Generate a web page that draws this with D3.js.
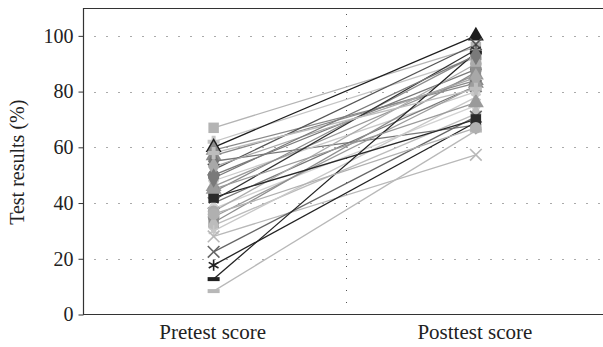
<!DOCTYPE html>
<html>
<head>
<meta charset="utf-8">
<script src="https://cdn.jsdelivr.net/npm/d3@7"></script>
<style>
  html, body { margin: 0; padding: 0; background: #fff; }
  svg { display: block; }
</style>
</head>
<body>
<div id="chart"></div>
<script>
// categories on the x axis
const categories = ["Pretest score", "Posttest score"];
// one entry per student, pretest and posttest in the same order
const pretest  = [67, 62, 60, 59, 57, 55, 52, 50, 48, 46, 44, 41, 40, 38, 37, 35, 33, 32, 30, 28, 22.5, 17.7, 12.7, 8.4, 42, 53, 45, 36, 58, 49];
const posttest = [96, 92, 100, 83, 84, 68, 97, 88, 80, 86, 93, 95, 82, 75, 90, 82, 87, 72, 78, 57.3, 71, 69, 94, 66, 70, 85, 76, 67, 81, 93];
const yTicks = [0, 20, 40, 60, 80, 100];

// marker shape / gray shade per student
const shapes = ["square", "plus", "triangle", "triangle", "triangle", "diamond", "x", "circle", "diamond", "triangle",
  "square", "star", "x", "diamond", "circle", "circle", "square", "diamond", "star", "x",
  "x", "star", "dash", "dash", "square", "diamond", "triangle", "circle", "plus", "diamond"];
const shades = ["#b4b4b4", "#c4c4c4", "#1e1e1e", "#8a8a8a", "#8a8a8a", "#777777", "#555555", "#7a7a7a", "#cacaca", "#9a9a9a",
  "#8c8c8c", "#333333", "#777777", "#d2d2d2", "#ababab", "#9c9c9c", "#8e8e8e", "#bcbcbc", "#c8c8c8", "#b8b8b8",
  "#666666", "#222222", "#222222", "#b8b8b8", "#2a2a2a", "#a8a8a8", "#9a9a9a", "#b0b0b0", "#bdbdbd", "#7a7a7a"];

const width = 603, height = 347;
const margin = { top: 8, right: -5, bottom: 32.5, left: 83.5 };
const font = "'Liberation Serif', 'DejaVu Serif', serif";

const svg = d3.select("#chart").append("svg")
  .attr("width", width)
  .attr("height", height);

const x = d3.scaleBand()
  .domain(categories)
  .range([margin.left, width - margin.right]);

const y = d3.scaleLinear()
  .domain([0, 110])
  .range([height - margin.bottom, margin.top]);

// dotted grid
svg.append("g")
  .selectAll("line")
  .data(yTicks.filter(d => d > 0))
  .join("line")
  .attr("x1", margin.left + 11)
  .attr("x2", width)
  .attr("y1", d => Math.round(y(d)) + 0.5)
  .attr("y2", d => Math.round(y(d)) + 0.5)
  .attr("stroke", "#555")
  .attr("stroke-width", 1)
  .attr("stroke-dasharray", "1,11");

// category separator
svg.append("line")
  .attr("x1", Math.round(x(categories[1])) + 0.5)
  .attr("x2", Math.round(x(categories[1])) + 0.5)
  .attr("y1", margin.top + 6)
  .attr("y2", y(0))
  .attr("stroke", "#555")
  .attr("stroke-dasharray", "1,11");

// frame: top, left, bottom
svg.append("path")
  .attr("d", `M${width},${margin.top + 0.5}H${margin.left}V${y(0)}H${width}`)
  .attr("fill", "none")
  .attr("stroke", "#333")
  .attr("stroke-width", 1.2);

// left axis
const yAxis = g => g
  .attr("transform", `translate(${margin.left},0)`)
  .style("font-family", font)
  .style("font-size", "20px")
  .call(d3.axisLeft(y).tickValues(yTicks).tickSize(5).tickPadding(5))
  .call(g => g.select(".domain").remove())
  .call(g => g.selectAll(".tick line").attr("stroke", "#333"))
  .call(g => g.selectAll(".tick text").attr("fill", "#222"));
svg.append("g").call(yAxis);

// bottom labels
svg.append("g")
  .selectAll("text")
  .data(categories)
  .join("text")
  .attr("x", d => x(d) + x.bandwidth() / 2 - 2)
  .attr("y", 339)
  .attr("text-anchor", "middle")
  .style("font-family", font)
  .style("font-size", "21px")
  .attr("fill", "#222")
  .text(d => d);

svg.append("text")
  .attr("transform", `translate(24,${(margin.top + y(0)) / 2 + 1}) rotate(-90)`)
  .attr("text-anchor", "middle")
  .style("font-family", font)
  .style("font-size", "20px")
  .attr("fill", "#222")
  .text("Test results (%)");

const px0 = x(categories[0]) + x.bandwidth() / 2 - 1;
const px1 = x(categories[1]) + x.bandwidth() / 2 - 1;

const students = pretest.map((p, i) => ({ pre: p, post: posttest[i], shape: shapes[i], color: shades[i] }));

// lines
svg.append("g")
  .attr("fill", "none")
  .attr("stroke-width", 1.3)
  .selectAll("line")
  .data(students)
  .join("line")
  .attr("x1", px0)
  .attr("y1", d => y(d.pre))
  .attr("x2", px1)
  .attr("y2", d => y(d.post))
  .attr("stroke", d => d.color);

const symbolTypes = {
  square: d3.symbolSquare,
  diamond: d3.symbolDiamond,
  triangle: d3.symbolTriangle,
  circle: d3.symbolCircle,
  plus: d3.symbolCross,
  x: d3.symbolX,
  star: d3.symbolAsterisk
};
const strokeOnly = new Set(["x", "star"]);

function drawMarker(g, d, cx, cy) {
  if (d.shape === "dash") {
    g.append("rect")
      .attr("x", cx - 6).attr("y", cy - 2)
      .attr("width", 12).attr("height", 4)
      .attr("fill", d.color);
    return;
  }
  const size = d.shape === "plus" ? 80 : (strokeOnly.has(d.shape) ? 90 : 110);
  const p = g.append("path")
    .attr("transform", `translate(${cx},${cy})`)
    .attr("d", d3.symbol(symbolTypes[d.shape], size)());
  if (strokeOnly.has(d.shape)) {
    p.attr("fill", "none").attr("stroke", d.color).attr("stroke-width", 1.6);
  } else {
    p.attr("fill", d.color);
  }
}

const markers = svg.append("g");
students.forEach(d => {
  drawMarker(markers, d, px0, y(d.pre));
  drawMarker(markers, d, px1, y(d.post));
});
</script>
</body>
</html>
